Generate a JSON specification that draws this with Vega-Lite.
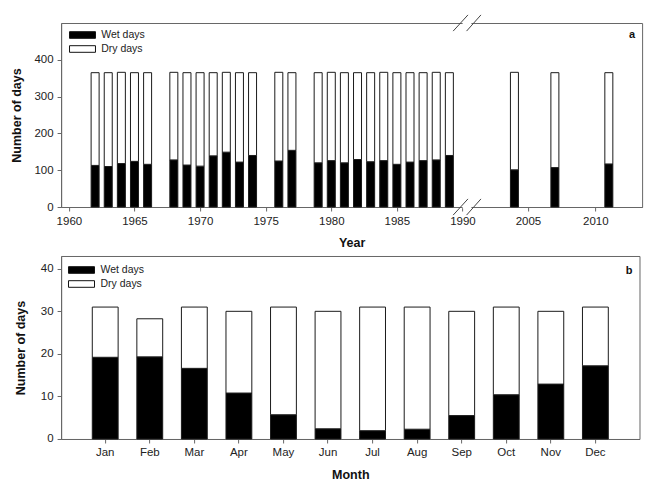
{
  "$schema": "https://vega.github.io/schema/vega-lite/v6.json",
  "padding": {"left": 10.1, "top": 13, "right": 5, "bottom": 0},
  "background": "white",
  "align": "all",
  "spacing": 5,
  "config": {
    "font": "Liberation Sans",
    "view": {"stroke": "#666", "strokeWidth": 1},
    "axis": {"domainColor": "#666", "tickColor": "#666", "tickSize": 4, "labelFontSize": 11.5, "labelColor": "#222", "titleFontSize": 12.5, "titleFontWeight": "bold", "titleColor": "#111", "grid": false, "labelPadding": 4},
    "legend": {"title": null, "orient": "top-left", "padding": 0, "labelFontSize": 10.5, "labelColor": "#222", "rowPadding": 2, "symbolSize": 121, "symbolStrokeColor": "#111", "symbolStrokeWidth": 1},
    "title": {"fontSize": 11, "fontWeight": "bold", "color": "#111"}
  },
  "resolve": {"scale": {"fill": "independent"}, "legend": {"fill": "independent"}},
  "vconcat": [
    {
      "width": 581,
      "height": 184,
      "title": {"text": "a", "anchor": "end", "frame": "group", "offset": -26, "dx": -7},
      "layer": [
        {
          "data": {"values": [
            {"year": 1962, "type": "Wet days", "days": 113}, {"year": 1962, "type": "Dry days", "days": 252},
            {"year": 1963, "type": "Wet days", "days": 110}, {"year": 1963, "type": "Dry days", "days": 255},
            {"year": 1964, "type": "Wet days", "days": 118}, {"year": 1964, "type": "Dry days", "days": 248},
            {"year": 1965, "type": "Wet days", "days": 124}, {"year": 1965, "type": "Dry days", "days": 241},
            {"year": 1966, "type": "Wet days", "days": 116}, {"year": 1966, "type": "Dry days", "days": 249},
            {"year": 1968, "type": "Wet days", "days": 128}, {"year": 1968, "type": "Dry days", "days": 238},
            {"year": 1969, "type": "Wet days", "days": 114}, {"year": 1969, "type": "Dry days", "days": 251},
            {"year": 1970, "type": "Wet days", "days": 111}, {"year": 1970, "type": "Dry days", "days": 254},
            {"year": 1971, "type": "Wet days", "days": 139}, {"year": 1971, "type": "Dry days", "days": 226},
            {"year": 1972, "type": "Wet days", "days": 149}, {"year": 1972, "type": "Dry days", "days": 217},
            {"year": 1973, "type": "Wet days", "days": 122}, {"year": 1973, "type": "Dry days", "days": 243},
            {"year": 1974, "type": "Wet days", "days": 140}, {"year": 1974, "type": "Dry days", "days": 225},
            {"year": 1976, "type": "Wet days", "days": 125}, {"year": 1976, "type": "Dry days", "days": 241},
            {"year": 1977, "type": "Wet days", "days": 154}, {"year": 1977, "type": "Dry days", "days": 211},
            {"year": 1979, "type": "Wet days", "days": 120}, {"year": 1979, "type": "Dry days", "days": 245},
            {"year": 1980, "type": "Wet days", "days": 126}, {"year": 1980, "type": "Dry days", "days": 240},
            {"year": 1981, "type": "Wet days", "days": 120}, {"year": 1981, "type": "Dry days", "days": 245},
            {"year": 1982, "type": "Wet days", "days": 129}, {"year": 1982, "type": "Dry days", "days": 236},
            {"year": 1983, "type": "Wet days", "days": 123}, {"year": 1983, "type": "Dry days", "days": 242},
            {"year": 1984, "type": "Wet days", "days": 126}, {"year": 1984, "type": "Dry days", "days": 240},
            {"year": 1985, "type": "Wet days", "days": 116}, {"year": 1985, "type": "Dry days", "days": 249},
            {"year": 1986, "type": "Wet days", "days": 122}, {"year": 1986, "type": "Dry days", "days": 243},
            {"year": 1987, "type": "Wet days", "days": 126}, {"year": 1987, "type": "Dry days", "days": 239},
            {"year": 1988, "type": "Wet days", "days": 128}, {"year": 1988, "type": "Dry days", "days": 238},
            {"year": 1989, "type": "Wet days", "days": 140}, {"year": 1989, "type": "Dry days", "days": 225},
            {"year": 2004, "type": "Wet days", "days": 101}, {"year": 2004, "type": "Dry days", "days": 265},
            {"year": 2007, "type": "Wet days", "days": 107}, {"year": 2007, "type": "Dry days", "days": 258},
            {"year": 2011, "type": "Wet days", "days": 117}, {"year": 2011, "type": "Dry days", "days": 248}
          ]},
          "mark": {"type": "bar", "width": 8, "stroke": "#1a1a1a", "strokeWidth": 1},
          "encoding": {
            "x": {"field": "year", "type": "quantitative",
                  "scale": {"domain": [1959.872, 1990.405, 2000.543, 2013], "range": [0, 406.7, 406.7, 581], "nice": false, "zero": false},
                  "axis": {"title": "Year", "values": [1960, 1965, 1970, 1975, 1980, 1985, 1990, 2005, 2010], "format": "d", "labelFlush": false, "labelOverlap": false, "titlePadding": 10}},
            "y": {"field": "days", "type": "quantitative", "stack": "zero",
                  "scale": {"domain": [0, 500], "nice": false},
                  "axis": {"title": "Number of days", "values": [0, 100, 200, 300, 400], "titlePadding": 10}},
            "fill": {"field": "type", "type": "nominal",
                     "scale": {"domain": ["Wet days", "Dry days"], "range": ["#000000", "#ffffff"]},
                     "legend": {"offset": 6, "symbolType": "M-0.65,-0.6H4.07V0.6H-0.65Z", "labelOffset": 22.1}},
            "order": {"field": "type", "sort": "descending"}
          }
        },
        {"data": {"values": [{}]}, "mark": {"type": "rule", "color": "white", "strokeWidth": 3},
         "encoding": {"x": {"datum": 1990.01, "type": "quantitative"}, "x2": {"datum": 2000.81}, "y": {"datum": 0, "type": "quantitative"}}},
        {"data": {"values": [{}]}, "mark": {"type": "rule", "color": "white", "strokeWidth": 3},
         "encoding": {"x": {"datum": 1990.01, "type": "quantitative"}, "x2": {"datum": 2000.81}, "y": {"datum": 500, "type": "quantitative"}}},
        {"data": {"values": [{}]}, "mark": {"type": "rule", "color": "#444", "strokeWidth": 1},
         "encoding": {"x": {"datum": 1989.29, "type": "quantitative"}, "x2": {"datum": 2000.557}, "y": {"datum": -22, "type": "quantitative"}, "y2": {"datum": 22}}},
        {"data": {"values": [{}]}, "mark": {"type": "rule", "color": "#444", "strokeWidth": 1},
         "encoding": {"x": {"datum": 1990.31, "type": "quantitative"}, "x2": {"datum": 2001.52}, "y": {"datum": -22, "type": "quantitative"}, "y2": {"datum": 22}}},
        {"data": {"values": [{}]}, "mark": {"type": "rule", "color": "#444", "strokeWidth": 1},
         "encoding": {"x": {"datum": 1989.29, "type": "quantitative"}, "x2": {"datum": 2000.557}, "y": {"datum": 478, "type": "quantitative"}, "y2": {"datum": 522}}},
        {"data": {"values": [{}]}, "mark": {"type": "rule", "color": "#444", "strokeWidth": 1},
         "encoding": {"x": {"datum": 1990.31, "type": "quantitative"}, "x2": {"datum": 2001.52}, "y": {"datum": 478, "type": "quantitative"}, "y2": {"datum": 522}}}
      ]
    },
    {
      "width": 578.4,
      "height": 183,
      "title": {"text": "b", "anchor": "end", "frame": "group", "offset": -20, "dx": -7},
      "data": {"values": [
        {"month": "Jan", "type": "Wet days", "days": 19.2}, {"month": "Jan", "type": "Dry days", "days": 11.8},
        {"month": "Feb", "type": "Wet days", "days": 19.3}, {"month": "Feb", "type": "Dry days", "days": 8.95},
        {"month": "Mar", "type": "Wet days", "days": 16.6}, {"month": "Mar", "type": "Dry days", "days": 14.4},
        {"month": "Apr", "type": "Wet days", "days": 10.8}, {"month": "Apr", "type": "Dry days", "days": 19.2},
        {"month": "May", "type": "Wet days", "days": 5.7}, {"month": "May", "type": "Dry days", "days": 25.3},
        {"month": "Jun", "type": "Wet days", "days": 2.4}, {"month": "Jun", "type": "Dry days", "days": 27.6},
        {"month": "Jul", "type": "Wet days", "days": 1.95}, {"month": "Jul", "type": "Dry days", "days": 29.05},
        {"month": "Aug", "type": "Wet days", "days": 2.3}, {"month": "Aug", "type": "Dry days", "days": 28.7},
        {"month": "Sep", "type": "Wet days", "days": 5.5}, {"month": "Sep", "type": "Dry days", "days": 24.5},
        {"month": "Oct", "type": "Wet days", "days": 10.4}, {"month": "Oct", "type": "Dry days", "days": 20.6},
        {"month": "Nov", "type": "Wet days", "days": 12.9}, {"month": "Nov", "type": "Dry days", "days": 17.1},
        {"month": "Dec", "type": "Wet days", "days": 17.2}, {"month": "Dec", "type": "Dry days", "days": 13.8}
      ]},
      "mark": {"type": "bar", "stroke": "#1a1a1a", "strokeWidth": 1},
      "encoding": {
        "x": {"field": "month", "type": "nominal", "sort": null,
              "scale": {"paddingInner": 0.42, "paddingOuter": 0.7},
              "axis": {"title": "Month", "labelAngle": 0, "titlePadding": 10}},
        "y": {"field": "days", "type": "quantitative", "stack": "zero",
              "scale": {"domain": [0, 43], "nice": false},
              "axis": {"title": "Number of days", "values": [0, 10, 20, 30, 40], "titlePadding": 13}},
        "fill": {"field": "type", "type": "nominal",
                 "scale": {"domain": ["Wet days", "Dry days"], "range": ["#000000", "#ffffff"]},
                 "legend": {"offset": 8, "symbolType": "M-1.2,-0.6H3.53V0.6H-1.2Z", "labelOffset": 19.4}},
        "order": {"field": "type", "sort": "descending"}
      }
    }
  ]
}
